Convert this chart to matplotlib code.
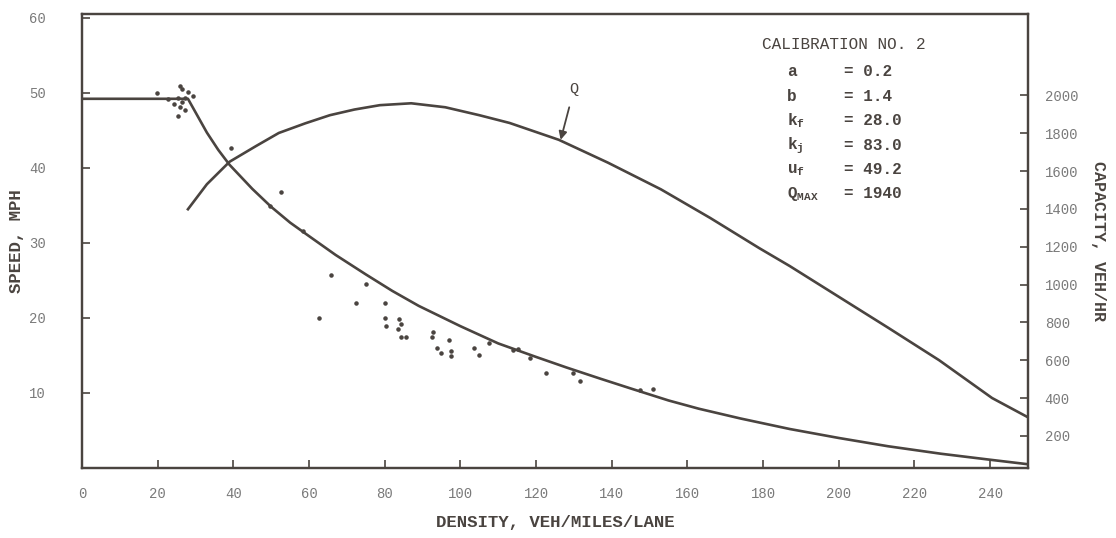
import matplotlib.pyplot as plt

plt.rcParams['font.family'] = ['Liberation Mono', 'DejaVu Sans']
plt.rcParams['mathtext.default'] = 'regular'

# speed-density curve
k_speed = [0, 28, 30, 33, 36, 39, 45, 50, 55, 60, 67, 75, 82, 89, 100, 110, 120, 128, 137, 145,
           155, 163, 174, 187, 200, 213, 227, 240, 250]
u_speed = [49.2, 49.2, 47.4, 44.7, 42.4, 40.4, 37.2, 34.8, 32.7, 30.9, 28.4, 25.8, 23.6, 21.6,
           18.9, 16.6, 14.8, 13.4, 11.9, 10.6, 9.0, 7.9, 6.6, 5.2, 4.0, 2.9, 1.9, 1.1, 0.5]

# capacity curve Q
k_q = [28, 33, 39, 46, 52, 59, 65.5, 72, 78.7, 87, 96, 105, 113, 126, 139, 153, 166, 179, 187,
       200, 213, 226.5, 240.5, 250]
q_vals = [1398, 1530, 1649, 1732, 1801, 1852, 1895, 1925, 1948, 1958, 1937, 1895, 1854, 1765,
          1644, 1503, 1352, 1192, 1098, 935, 772, 600, 400, 298]

# observed points
obs_k = [19.8, 25.9, 26.4, 25.3, 27.2, 26.4, 25.9, 27.2, 25.3, 29.3, 28.0, 24.3, 22.7,
         39.5, 52.5, 49.6, 58.3, 65.9, 75.0, 72.5, 80.2, 62.6, 80.2, 80.4, 83.7, 84.2, 83.5,
         84.4, 85.7, 92.7, 92.5, 97.0, 93.9, 95.0, 97.6, 97.6, 103.5, 104.8, 107.5, 113.9,
         115.2, 118.3, 122.7, 129.7, 131.7, 147.5, 151.0]
obs_u = [50.0, 50.9, 50.5, 49.3, 49.3, 48.8, 48.1, 47.7, 46.9, 49.6, 50.1, 48.5, 49.2,
         42.7, 36.8, 34.9, 31.6, 25.7, 24.5, 22.0, 22.0, 20.0, 20.0, 18.9, 19.8, 19.2, 18.5,
         17.5, 17.5, 18.1, 17.5, 17.1, 16.0, 15.3, 15.6, 14.9, 16.0, 15.0, 16.7, 15.7,
         15.8, 14.7, 12.6, 12.6, 11.6, 10.4, 10.5]

x_ticks = list(range(0, 241, 20))
speed_ticks = [10, 20, 30, 40, 50, 60]
cap_ticks = list(range(200, 2001, 200))

params = [('a', '0.2'), ('b', '1.4'), ('$k_f$', '28.0'), ('$k_j$', '83.0'),
          ('$u_f$', '49.2'), ('$Q_{MAX}$', '1940')]

ink = '#4a4440'
grey = '#7a7a7a'

fig = plt.figure(figsize=(11.16, 5.38), dpi=100)
ax = fig.add_axes([82 / 1116, 1 - 468 / 538, 946 / 1116, 454 / 538])
ax2 = ax.twinx()

ax.plot(k_speed, u_speed, color=ink, lw=1.9)
ax.scatter(obs_k, obs_u, s=5, color=ink, zorder=3)
ax2.plot(k_q, q_vals, color=ink, lw=1.9)

ax.set_xlim(0, 250)
ax.set_ylim(0, 60.5)
ax2.set_ylim(30, 2430)

ax.set_xticks(x_ticks)
ax.set_yticks(speed_ticks)
ax2.set_yticks(cap_ticks)

ax.tick_params(axis='x', direction='in', length=6, width=1.2, color=ink,
               labelsize=10, labelcolor=grey, pad=14)
ax.tick_params(axis='y', direction='in', length=6, width=1.2, color=ink,
               labelsize=10, labelcolor=grey, pad=26)
ax2.tick_params(axis='y', direction='in', length=6, width=1.2, color=ink,
                labelsize=10, labelcolor=grey, pad=12)

for a_ in (ax, ax2):
    for sp in a_.spines.values():
        sp.set_color(ink)
        sp.set_linewidth(1.6)

ax.set_xlabel('DENSITY, VEH/MILES/LANE', fontsize=12.5, fontweight='bold', color=ink, labelpad=10)
ax.set_ylabel('SPEED, MPH', fontsize=12.5, fontweight='bold', color=ink, labelpad=4)
ax2.set_ylabel('CAPACITY, VEH/HR', fontsize=12, fontweight='bold', color=ink,
               rotation=270, labelpad=20)

# Q label with arrow
ax2.annotate('Q', xy=(126.5, 1765), xytext=(130, 2010), fontsize=11, color=ink, ha='center',
             arrowprops=dict(arrowstyle='-|>', color=ink, lw=1.3, mutation_scale=12,
                             shrinkA=6, shrinkB=0))

# calibration block
ax.text(0.719, 0.932, 'CALIBRATION NO. 2', transform=ax.transAxes, fontsize=11.5,
        color=ink, va='center')
row_y = [0.8725, 0.8176, 0.7648, 0.710, 0.657, 0.604]
for (name, val), y in zip(params, row_y):
    ax.text(0.7455, y, name, transform=ax.transAxes, fontsize=11.5, color=ink,
            va='center', fontweight='bold')
    ax.text(0.806, y, '= ' + val, transform=ax.transAxes, fontsize=11.5, color=ink,
            va='center', fontweight='bold')

fig.savefig('out.png', dpi=100)
